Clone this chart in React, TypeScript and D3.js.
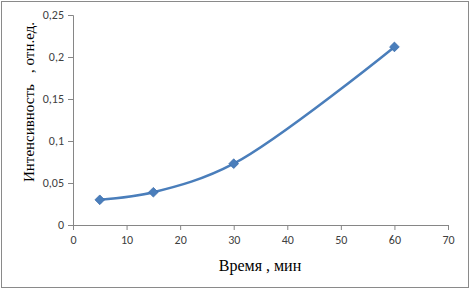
import React, { useEffect, useRef } from 'react';
import * as d3 from 'd3';

const times = [5, 15, 30, 60];
const intensity = [0.03, 0.039, 0.073, 0.212];
const xTicks = [0, 10, 20, 30, 40, 50, 60, 70];
const yTicks = [0, 0.05, 0.1, 0.15, 0.2, 0.25];

const W = 470;
const H = 289;

const fmt = (v: number) => String(Math.round(v * 100) / 100).replace('.', ',');

function Chart() {
  const ref = useRef<SVGSVGElement | null>(null);

  useEffect(() => {
    const svg = d3.select(ref.current);
    svg.selectAll('*').remove();

    const x = d3.scaleLinear().domain([0, 70]).range([73, 448]);
    const y = d3.scaleLinear().domain([0, 0.25]).range([225, 15]);

    // outer frame
    svg.append('rect')
      .attr('x', 1.5).attr('y', 1.5)
      .attr('width', W - 3).attr('height', H - 3)
      .attr('fill', 'white').attr('stroke', '#8a8a8a').attr('stroke-width', 1);

    const axisColor = '#868686';
    const tickFont = 'Carlito, "Open Sans", "Liberation Sans", sans-serif';

    // y axis
    const yAxis = svg.append('g').attr('transform', `translate(${x(0)},0)`)
      .call(d3.axisLeft(y).tickValues(yTicks).tickSize(5).tickFormat((d) => fmt(d as number)));
    // x axis
    const xAxis = svg.append('g').attr('transform', `translate(0,${y(0)})`)
      .call(d3.axisBottom(x).tickValues(xTicks).tickSize(5).tickFormat((d) => String(d)));

    [yAxis, xAxis].forEach((g) => {
      g.select('.domain').attr('stroke', axisColor);
      g.selectAll('.tick line').attr('stroke', axisColor);
      g.selectAll('.tick text')
        .attr('fill', '#404040')
        .style('font-family', tickFont)
        .style('font-size', '12px');
    });
    yAxis.selectAll('.tick text').attr('x', -9);
    xAxis.selectAll('.tick text').attr('y', 10);

    // line
    const pts = times.map((t, i) => [t, intensity[i]] as [number, number]);
    const line = d3.line<[number, number]>()
      .x((d) => x(d[0]))
      .y((d) => y(d[1]))
      .curve(d3.curveCatmullRom.alpha(0.5));

    svg.append('path')
      .datum(pts)
      .attr('d', line)
      .attr('fill', 'none')
      .attr('stroke', '#4a7ebb')
      .attr('stroke-width', 2.5);

    const diamond = d3.symbol().type(d3.symbolDiamond2).size(60);
    svg.selectAll('path.marker')
      .data(pts)
      .enter()
      .append('path')
      .attr('class', 'marker')
      .attr('d', diamond)
      .attr('transform', (d) => `translate(${x(d[0])},${y(d[1])})`)
      .attr('fill', '#4a7ebb')
      .attr('stroke', '#3e6fad')
      .attr('stroke-width', 0.8);

    // axis titles
    const titleFont = '"Liberation Serif", "Times New Roman", serif';
    svg.append('text')
      .attr('x', 260).attr('y', 271)
      .attr('text-anchor', 'middle')
      .style('font-family', titleFont)
      .style('font-size', '16px')
      .attr('fill', '#000')
      .text('Время , мин');

    svg.append('text')
      .attr('transform', 'translate(34,102) rotate(-90)')
      .attr('text-anchor', 'middle')
      .style('font-family', titleFont)
      .style('font-size', '15px')
      .attr('fill', '#000')
      .text('Интенсивность\u00a0\u00a0\u00a0, отн.ед.');
  }, []);

  return <svg ref={ref} width={W} height={H} style={{ display: 'block' }} />;
}

export default function App() {
  return (
    <div style={{ position: 'absolute', left: 0, top: 0 }}>
      <Chart />
    </div>
  );
}
